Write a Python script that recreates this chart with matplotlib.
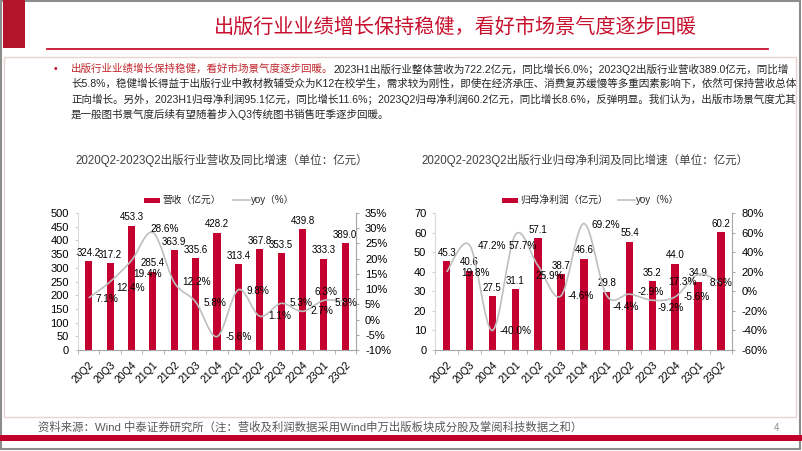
import matplotlib
matplotlib.use('Agg')

import matplotlib.pyplot as plt
import matplotlib.ticker as mtick
from matplotlib.path import Path
from matplotlib.patches import PathPatch, Rectangle
import numpy as np

plt.rcParams['font.family'] = ['Liberation Sans', 'Noto Sans CJK SC']
plt.rcParams['axes.unicode_minus'] = False

# data
quarters = ['20Q2', '20Q3', '20Q4', '21Q1', '21Q2', '21Q3', '21Q4',
            '22Q1', '22Q2', '22Q3', '22Q4', '23Q1', '23Q2']
revenue = [324.2, 317.2, 453.3, 285.4, 363.9, 335.6, 428.2, 313.4, 367.8, 353.5, 439.8, 333.3, 389.0]
revenue_yoy = [7.1, 12.4, 19.4, 28.6, 12.2, 5.8, -5.6, 9.8, 1.1, 5.3, 2.7, 6.3, 5.8]
profit = [45.3, 40.6, 27.5, 31.1, 57.1, 38.7, 46.6, 29.8, 55.4, 35.2, 44.0, 34.9, 60.2]
profit_yoy = [19.8, 47.2, -40.0, 57.7, 25.9, -4.6, 69.2, -4.4, -2.9, -9.2, -5.6, 17.3, 8.6]

# yoy label offsets (px: to the label's left edge, downward)
revenue_lbl_off = [(7, 1), (6, 6), (2, 14), (-2, -3), (8, 0), (8, 1), (9, 0),
                   (8, 1), (8, 0), (8, 0), (8, 0), (-9, -8), (-11, 1)]
profit_lbl_off = [(15, 1), (8, 1), (7, 1), (-7, 11), (-3, 10), (7, 0), (8, 1),
                  (6, 11), (8, -2), (5, 8), (8, 0), (-30, 8), (-11, 0)]

BAR_RED = '#C3002F'
TITLE_RED = '#C8102E'
LINE_GRAY = '#BFBFBF'
AXIS_GRAY = '#A6A6A6'
TEXT_DARK = '#262626'

W, H = 802, 451
fig = plt.figure(figsize=(W / 100, H / 100), dpi=100)

# slide background in pixel coords
bg = fig.add_axes([0, 0, 1, 1])
bg.set_xlim(0, W)
bg.set_ylim(H, 0)
bg.axis('off')

bg.add_patch(Rectangle((1, 1), W - 3, H - 3, fill=False, ec='#8C8C8C', lw=1.5))
bg.add_patch(Rectangle((3, 0), 22, 48, color='#B5152B', lw=0))
bg.text(455, 27, '出版行业业绩增长保持稳健，看好市场景气度逐步回暖', color=TITLE_RED,
        fontsize=14.5, ha='center', va='center')
bg.plot([47, 768], [49, 49], color=TITLE_RED, lw=1.3)
bg.add_patch(Rectangle((4, 57), 792, 360, fill=False, ec='#E8D2D2', lw=1))

# bullet paragraph
body_fs = 7.6
bg.text(54, 69, '•', color=TITLE_RED, fontsize=body_fs, ha='left', va='center')
t_red = bg.text(71, 69, '出版行业业绩增长保持稳健，看好市场景气度逐步回暖。',
                color='#C0272D', fontsize=body_fs, ha='left', va='center')
fig.canvas.draw()
bb = t_red.get_window_extent(fig.canvas.get_renderer())
x_end = bg.transData.inverted().transform((bb.x1, bb.y0))[0]
bg.text(x_end, 69, '2023H1出版行业整体营收为722.2亿元，同比增长6.0%；2023Q2出版行业营收389.0亿元，同比增',
        color=TEXT_DARK, fontsize=body_fs, ha='left', va='center')
body_lines = [
    '长5.8%，稳健增长得益于出版行业中教材教辅受众为K12在校学生，需求较为刚性，即使在经济承压、消费复苏缓慢等多重因素影响下，依然可保持营收总体',
    '正向增长。另外，2023H1归母净利润95.1亿元，同比增长11.6%；2023Q2归母净利润60.2亿元，同比增长8.6%，反弹明显。我们认为，出版市场景气度尤其',
    '是一般图书景气度后续有望随着步入Q3传统图书销售旺季逐步回暖。',
]
for k, line in enumerate(body_lines):
    bg.text(71, 84 + 15.3 * k, line, color=TEXT_DARK, fontsize=body_fs, ha='left', va='center')

# footer
bg.text(38, 427, '资料来源：Wind 中泰证券研究所（注：营收及利润数据采用Wind申万出版板块成分股及掌阅科技数据之和）',
        color='#595959', fontsize=8.2, ha='left', va='center')
bg.text(777, 428, '4', color='#8C8C8C', fontsize=7, ha='center', va='center')
bg.add_patch(Rectangle((0, 435), W, 6, color='#C0002A', lw=0))


def smooth_path(x, y):
    # Bezier path through the points, like Excel's smoothed line
    x = np.asarray(x, float)
    y = np.asarray(y, float)
    px = np.concatenate([[x[0]], x, [x[-1]]])
    py = np.concatenate([[y[0]], y, [y[-1]]])
    verts = [(x[0], y[0])]
    codes = [Path.MOVETO]
    for i in range(len(x) - 1):
        c1 = (x[i] + (px[i + 2] - px[i]) / 6, y[i] + (py[i + 2] - py[i]) / 6)
        c2 = (x[i + 1] - (px[i + 3] - px[i + 1]) / 6, y[i + 1] - (py[i + 3] - py[i + 1]) / 6)
        verts += [c1, c2, (x[i + 1], y[i + 1])]
        codes += [Path.CURVE4] * 3
    return Path(verts, codes)


def draw_chart(px_left, px_right, values, yoy, bar_ticks, yoy_ticks, offsets):
    rect = [px_left / W, (H - 350) / H, (px_right - px_left) / W, 137 / H]
    ax = fig.add_axes(rect)
    ax.set_facecolor('none')
    x = np.arange(len(quarters))
    bars = ax.bar(x, values, width=0.33, color=BAR_RED, zorder=2)
    ax.bar_label(bars, labels=[f'{v:.1f}' for v in values], padding=2.5,
                 fontsize=7, color='#000000')
    ax.set_xlim(-0.5, len(quarters) - 0.5)
    ax.set_ylim(bar_ticks[0], bar_ticks[-1])
    ax.set_yticks(bar_ticks)
    ax.set_xticks(x)
    ax.set_xticklabels(quarters, rotation=45, ha='right', rotation_mode='anchor')
    ax.set_xticks(np.arange(-0.5, len(quarters)), minor=True)
    ax.tick_params(axis='x', which='major', length=0, labelsize=7.5, pad=7)
    ax.tick_params(axis='x', which='minor', length=3, color=AXIS_GRAY)
    ax.tick_params(axis='y', length=2.5, color='#D0D0D0', labelsize=8, pad=4)
    for s in ['top', 'right']:
        ax.spines[s].set_visible(False)
    ax.spines['left'].set_color('#D9D9D9')
    ax.spines['bottom'].set_color(AXIS_GRAY)

    ax2 = ax.twinx()
    ax2.set_ylim(yoy_ticks[0], yoy_ticks[-1])
    ax2.set_yticks(yoy_ticks)
    ax2.yaxis.set_major_formatter(mtick.FormatStrFormatter('%d%%'))
    ax2.tick_params(axis='y', length=2.5, color=AXIS_GRAY, labelsize=8, pad=4)
    for s in ['top', 'left', 'bottom']:
        ax2.spines[s].set_visible(False)
    ax2.spines['right'].set_color(AXIS_GRAY)
    ax2.add_patch(PathPatch(smooth_path(x, yoy), fill=False, ec=LINE_GRAY, lw=1.2, zorder=3))
    for i, v in enumerate(yoy):
        dx, dy = offsets[i]
        ax2.annotate(f'{v:.1f}%', xy=(i, v), xytext=(dx * 0.72, -dy * 0.72),
                     textcoords='offset points', ha='left', va='center',
                     fontsize=7.2, color='#000000', zorder=4)
    return ax, ax2


draw_chart(78, 356, revenue, revenue_yoy, np.arange(0, 501, 50),
           np.arange(-10, 36, 5), revenue_lbl_off)
draw_chart(435.3, 732.4, profit, profit_yoy, np.arange(0, 71, 10),
           np.arange(-60, 81, 20), profit_lbl_off)

# chart titles and legends
bg.text(221.5, 160, '2020Q2-2023Q2出版行业营收及同比增速（单位：亿元）',
        color='#404040', fontsize=8.3, ha='center', va='center')
bg.text(585, 160, '2020Q2-2023Q2出版行业归母净利润及同比增速（单位：亿元）',
        color='#404040', fontsize=8.3, ha='center', va='center')

legend_items = [(144, 233, '营收（亿元）'), (502, 618, '归母净利润（亿元）')]
for rx, lx, name in legend_items:
    bg.add_patch(Rectangle((rx, 197.5), 16, 5, color=BAR_RED, lw=0))
    bg.text(rx + 18, 200, name, color=TEXT_DARK, fontsize=7, ha='left', va='center')
    bg.plot([lx, lx + 17], [200, 200], color=LINE_GRAY, lw=1.2)
    bg.text(lx + 18, 200, 'yoy（%）', color=TEXT_DARK, fontsize=7, ha='left', va='center')

fig.savefig('out.png', dpi=100)
